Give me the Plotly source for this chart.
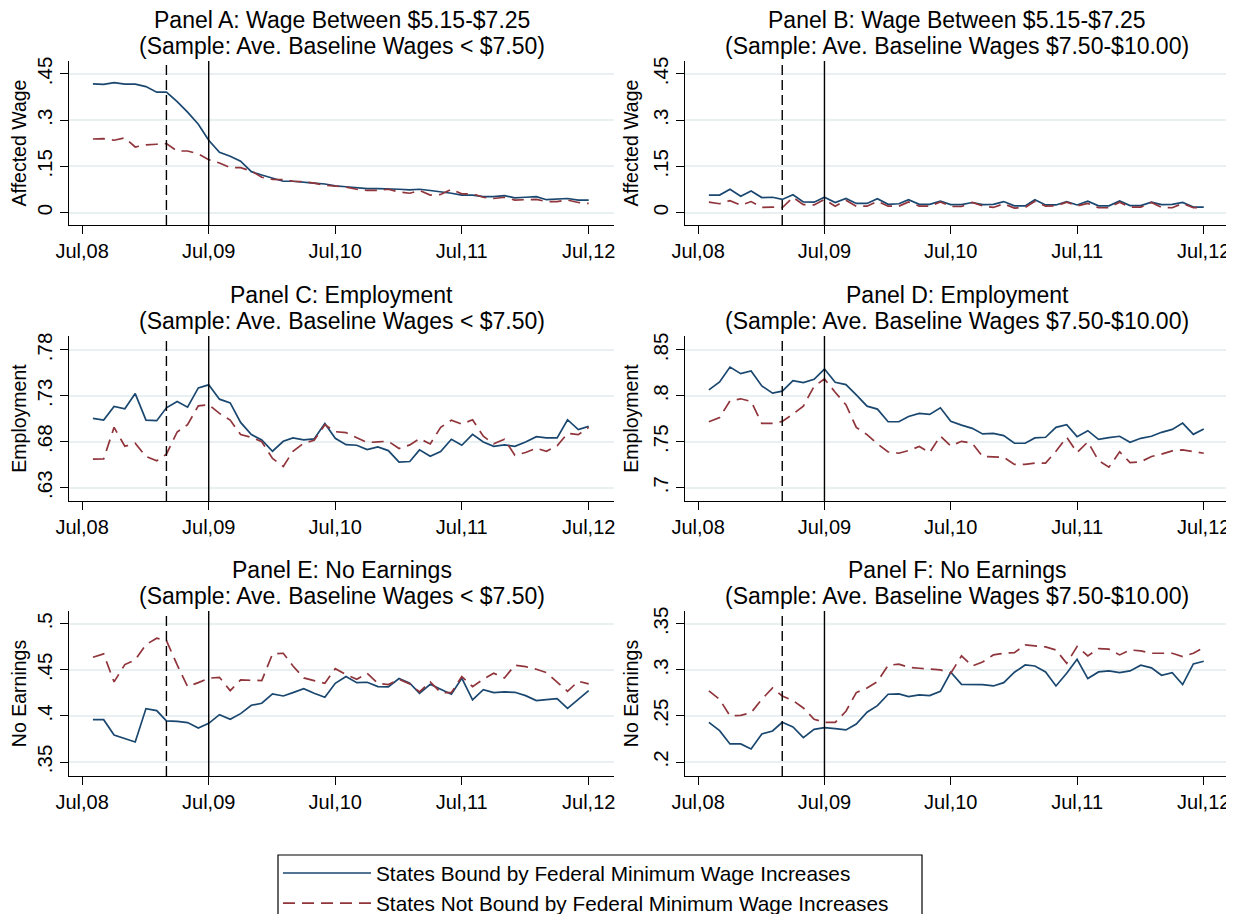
import pandas as pd
import plotly.graph_objects as go

months = pd.date_range("2008-08-01", periods=48, freq="MS")

tick_dates = ["2008-07-01", "2009-07-01", "2010-07-01", "2011-07-01", "2012-07-01"]
tick_labels = ["Jul,08", "Jul,09", "Jul,10", "Jul,11", "Jul,12"]
dashed_date = "2009-03-01"
solid_date = "2009-07-01"

a_bound = [.418, .416, .422, .417, .417, .409, .391, .391, .360, .326, .287, .235, .196, .183, .167, .133,
           .122, .111, .102, .102, .100, .096, .093, .087, .084, .080, .078, .078, .078, .076, .074, .076,
           .072, .068, .063, .057, .057, .052, .052, .055, .048, .050, .052, .042, .043, .046, .041, .041]
a_notbound = [.239, .240, .235, .243, .213, .220, .222, .224, .200, .200, .191, .172, .161, .146, .146, .135,
              .115, .108, .107, .102, .100, .096, .089, .085, .083, .076, .072, .072, .076, .067, .063, .072,
              .057, .059, .076, .061, .061, .050, .046, .050, .041, .042, .043, .036, .036, .041, .033, .030]

b_bound = [.057, .057, .076, .053, .070, .049, .050, .043, .058, .035, .034, .050, .033, .046, .030, .030,
           .045, .027, .029, .042, .027, .027, .037, .026, .026, .033, .026, .027, .036, .022, .022, .042,
           .025, .025, .036, .025, .037, .022, .022, .038, .023, .023, .034, .026, .027, .033, .018, .018]
b_notbound = [.034, .029, .039, .024, .036, .017, .018, .016, .050, .026, .025, .043, .021, .040, .021, .021,
              .037, .021, .021, .035, .021, .021, .035, .020, .020, .033, .022, .017, .029, .015, .017, .037,
              .021, .022, .034, .022, .030, .016, .016, .034, .018, .018, .033, .017, .016, .030, .016, .017]

c_bound = [.7055, .7036, .7184, .7160, .7325, .7036, .7030, .7170, .7239, .7177, .7387, .7420, .7264, .7224,
           .7011, .6878, .6820, .6697, .6805, .6842, .6820, .6831, .7000, .6838, .6769, .6762, .6715, .6744,
           .6704, .6578, .6585, .6712, .6643, .6693, .6827, .6762, .6881, .6798, .6751, .6766, .6751, .6798,
           .6856, .6842, .6842, .7040, .6932, .6968]
c_notbound = [.6610, .6614, .6957, .6751, .6784, .6640, .6592, .6665, .6907, .6986, .7192, .7203, .7109, .7036,
              .6878, .6849, .6800, .6618, .6531, .6697, .6784, .6816, .6986, .6910, .6900, .6849, .6791, .6800,
              .6805, .6726, .6766, .6834, .6777, .6957, .7036, .6993, .7040, .6860, .6777, .6827, .6654, .6683,
              .6730, .6697, .6755, .6892, .6878, .6957]

d_bound = [.8065, .8152, .8314, .8242, .8271, .8108, .8029, .8051, .8166, .8144, .8180, .8292, .8148, .8123,
           .8011, .7888, .7856, .7718, .7718, .7776, .7809, .7798, .7870, .7722, .7682, .7646, .7585, .7592,
           .7567, .7484, .7484, .7542, .7549, .7657, .7686, .7556, .7621, .7527, .7545, .7560, .7495, .7538,
           .7560, .7603, .7635, .7704, .7581, .7639]
d_notbound = [.7718, .7765, .7946, .7968, .7939, .7700, .7700, .7722, .7801, .7888, .8105, .8184, .8040, .7903,
              .7657, .7578, .7477, .7390, .7375, .7404, .7448, .7383, .7563, .7455, .7505, .7484, .7340, .7332,
              .7332, .7253, .7253, .7267, .7267, .7397, .7549, .7383, .7498, .7296, .7224, .7390, .7274, .7282,
              .7340, .7365, .7401, .7412, .7397, .7375]

e_bound = [.3960, .3960, .3793, .3757, .3717, .4080, .4058, .3946, .3942, .3928, .3870, .3920, .4014, .3964,
           .4025, .4116, .4138, .4239, .4217, .4254, .4297, .4246, .4203, .4355, .4428, .4362, .4366, .4319,
           .4315, .4406, .4355, .4246, .4344, .4290, .4236, .4410, .4174, .4286, .4254, .4261, .4257, .4221,
           .4167, .4178, .4188, .4083, .4178, .4275]
e_notbound = [.4638, .4674, .4370, .4558, .4609, .4775, .4844, .4819, .4554, .4319, .4362, .4410, .4420, .4275,
              .4391, .4384, .4384, .4674, .4681, .4543, .4413, .4384, .4355, .4514, .4449, .4399, .4464, .4355,
              .4341, .4399, .4348, .4261, .4370, .4254, .4254, .4428, .4319, .4399, .4464, .4413, .4551, .4536,
              .4507, .4471, .4373, .4268, .4377, .4348]

f_bound = [.2431, .2341, .2196, .2196, .2141, .2304, .2337, .2431, .2380, .2264, .2355, .2373, .2362, .2348,
           .2413, .2540, .2612, .2736, .2739, .2710, .2728, .2721, .2768, .2975, .2844, .2841, .2841, .2826,
           .2862, .2975, .3054, .3043, .2978, .2826, .2964, .3116, .2906, .2978, .2989, .2971, .2989, .3051,
           .3022, .2942, .2971, .2841, .3065, .3094]
f_notbound = [.2772, .2681, .2500, .2507, .2536, .2681, .2804, .2717, .2667, .2587, .2464, .2431, .2431, .2551,
              .2754, .2804, .2873, .3051, .3062, .3029, .3018, .3007, .3000, .2964, .3152, .3043, .3087, .3163,
              .3181, .3188, .3272, .3261, .3250, .3217, .3072, .3254, .3152, .3232, .3225, .3163, .3217, .3207,
              .3181, .3181, .3181, .3145, .3181, .3243]

panels = [
    ("Panel A: Wage Between $5.15-$7.25", "(Sample: Ave. Baseline Wages < $7.50)", "Affected Wage",
     a_bound, a_notbound, [0, .15, .3, .45], ["0", ".15", ".3", ".45"], [-0.040, 0.492]),
    ("Panel B: Wage Between $5.15-$7.25", "(Sample: Ave. Baseline Wages $7.50-$10.00)", "Affected Wage",
     b_bound, b_notbound, [0, .15, .3, .45], ["0", ".15", ".3", ".45"], [-0.040, 0.492]),
    ("Panel C: Employment", "(Sample: Ave. Baseline Wages < $7.50)", "Employment",
     c_bound, c_notbound, [.63, .68, .73, .78], [".63", ".68", ".73", ".78"], [0.6155, 0.7952]),
    ("Panel D: Employment", "(Sample: Ave. Baseline Wages $7.50-$10.00)", "Employment",
     d_bound, d_notbound, [.7, .75, .8, .85], [".7", ".75", ".8", ".85"], [0.6855, 0.8652]),
    ("Panel E: No Earnings", "(Sample: Ave. Baseline Wages < $7.50)", "No Earnings",
     e_bound, e_notbound, [.35, .4, .45, .5], [".35", ".4", ".45", ".5"], [0.3348, 0.514]),
    ("Panel F: No Earnings", "(Sample: Ave. Baseline Wages $7.50-$10.00)", "No Earnings",
     f_bound, f_notbound, [.2, .25, .3, .35], [".2", ".25", ".3", ".35"], [0.1848, 0.364]),
]

# page body has an 8px margin: figure offset by 8px, sized to avoid scrollbars
OFF = 8
W, H = 1234 - OFF, 922 - 2 * OFF


def px(x):
    return min(max((x - OFF) / W, 0.0), 1.0)


def py(y):
    return 1 - (y - OFF) / H


col_px = [(69, 614), (685, 1229)]
row_px = [(61, 225), (336, 501), (611, 776)]

BLUE = "#1a476f"
RED = "#90353b"
GRID = "#e8f0f2"
FONT = "Liberation Sans, Arial, sans-serif"

fig = go.Figure()
layout = dict(
    width=W, height=H,
    margin=dict(l=0, r=0, t=0, b=0, autoexpand=False),
    paper_bgcolor="white", plot_bgcolor="white",
    font=dict(family=FONT, color="black", size=20),
    showlegend=True,
    legend=dict(
        x=px(278), y=py(853), xanchor="left", yanchor="top",
        borderwidth=0, bgcolor="rgba(0,0,0,0)",
        font=dict(size=20.8, family=FONT), itemwidth=88,
        tracegroupgap=0,
    ),
)
annotations = []
shapes = []

for k, (t1, t2, ytitle, yb, yn, tv, tt, yr) in enumerate(panels):
    r, c = divmod(k, 2)
    idx = "" if k == 0 else str(k + 1)
    xa, ya = "x" + idx, "y" + idx
    x0, x1 = col_px[c]
    top, bot = row_px[r]
    xdom = [px(x0), px(x1)]
    ydom = [py(bot), py(top)]

    fig.add_trace(go.Scatter(x=months, y=yb, mode="lines", xaxis=xa, yaxis=ya,
                             line=dict(color=BLUE, width=1.7),
                             name="States Bound by Federal Minimum Wage Increases",
                             legendgroup="b", showlegend=(k == 0)))
    fig.add_trace(go.Scatter(x=months, y=yn, mode="lines", xaxis=xa, yaxis=ya,
                             line=dict(color=RED, width=1.7, dash="12px,7px"),
                             name="States Not Bound by Federal Minimum Wage Increases",
                             legendgroup="n", showlegend=(k == 0)))

    layout["xaxis" + idx] = dict(
        domain=xdom, anchor=ya, type="date", automargin=False,
        range=["2008-05-24", "2012-09-12"],
        tickvals=tick_dates, ticktext=tick_labels, ticklabeloverflow="allow",
        showline=True, linecolor="black", linewidth=1.2,
        ticks="outside", ticklen=8, tickcolor="black", tickwidth=1.2,
        showgrid=False, zeroline=False,
        tickfont=dict(size=20, family=FONT),
    )
    layout["yaxis" + idx] = dict(
        domain=ydom, anchor=xa, range=yr, automargin=False,
        tickvals=tv, ticktext=tt, tickangle=-90,
        showline=True, linecolor="black", linewidth=1.2,
        ticks="outside", ticklen=8, tickcolor="black", tickwidth=1.2,
        showgrid=True, gridcolor=GRID, gridwidth=1.5, zeroline=False,
        tickfont=dict(size=20.5, family=FONT),
        title=dict(text=ytitle, font=dict(size=19.5, family=FONT), standoff=4),
    )
    cx = (xdom[0] + xdom[1]) / 2
    for txt, yc in ((t1, top - 41), (t2, top - 15)):
        annotations.append(dict(
            text=txt, xref="paper", yref="paper",
            x=cx, y=py(yc), xanchor="center", yanchor="middle", borderpad=0,
            showarrow=False, font=dict(size=23, family=FONT), align="center",
        ))
    for d, dash in ((dashed_date, "10px,5px"), (solid_date, "solid")):
        shapes.append(dict(type="line", xref=xa, yref=ya + " domain",
                           x0=d, x1=d, y0=0, y1=1,
                           line=dict(color="black", width=1.4, dash=dash)))

# legend frame (its bottom edge lies below the visible area in the reference)
shapes.append(dict(type="path", xref="paper", yref="paper",
                   path=f"M {px(278)},{py(930)} L {px(278)},{py(855)} L {px(922)},{py(855)} L {px(922)},{py(930)}",
                   line=dict(color="black", width=1.2)))

layout["annotations"] = annotations
layout["shapes"] = shapes
fig.update_layout(**layout)
fig.write_html("out.html")
